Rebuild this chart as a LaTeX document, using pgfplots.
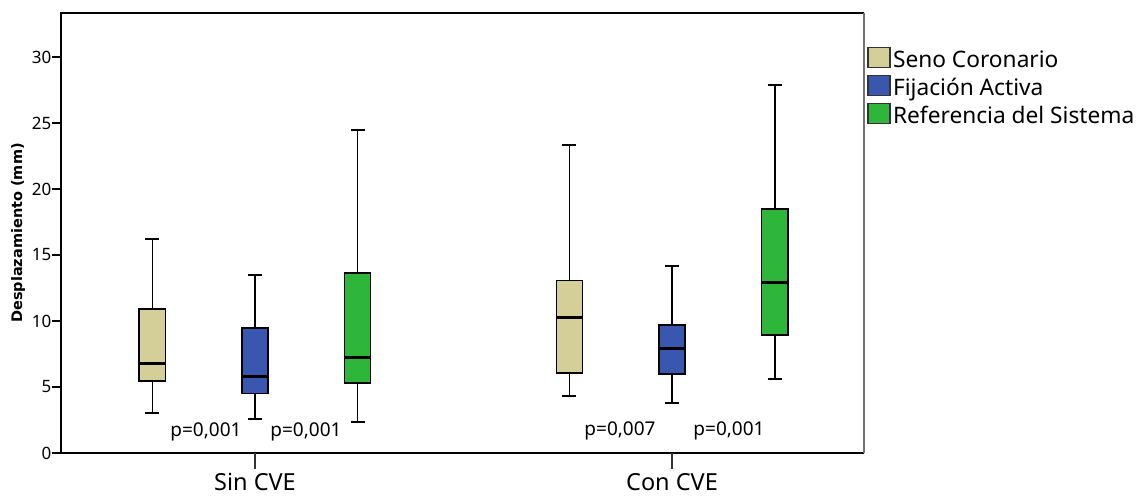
\documentclass[border=0pt]{standalone}
\usepackage{fontspec}
\setmainfont{Noto Sans}
\newfontfamily\dejav{DejaVu Sans}
\usepackage{pgfplots}
\pgfplotsset{compat=1.18}
\usepgfplotslibrary{statistics}
\definecolor{tanc}{RGB}{212,206,152}
\definecolor{bluec}{RGB}{58,87,176}
\definecolor{greenc}{RGB}{46,182,58}
\pgfplotsset{
  mybox/.style={forget plot, draw=black, line width=1.8pt,
    boxplot/draw direction=y,
    boxplot/box extend=0.0624, boxplot/whisker extend=0.0336,
    boxplot/every median/.style={line width=3pt}},
}
\begin{document}
\begin{tikzpicture}
\begin{axis}[
  name=ax,
  scale only axis, width=803pt, height=440pt,
  xmin=0.5348, xmax=2.4604, ymin=0, ymax=33.33,
  clip=false,
  axis line style={draw=none},
  ytick={0,5,10,15,20,25,30}, ytick pos=left,
  xtick={1,2}, xticklabels={Sin CVE,Con CVE}, xtick pos=bottom,
  tick align=outside, major tick length=9pt,
  ytick style={black, line width=1.5pt},
  xtick style={draw=none},
  /pgf/number format/assume math mode=true,
  yticklabel style={font=\fontsize{17}{18}\selectfont, anchor=east, inner sep=0pt, xshift=-0.5pt},
  xticklabel style={font=\fontsize{23.5}{26}\selectfont, anchor=base, inner sep=0pt, yshift=-28.5pt},
  ylabel={Desplazamiento (mm)},
  ylabel style={font=\dejav\bfseries\fontsize{14.5}{16}\selectfont, at={(axis description cs:-0.0535,0.5)}, anchor=center},
  legend style={draw=none, fill=none, inner sep=0pt,
    at={(axis description cs:1,1)}, anchor=north west, xshift=3pt, yshift=-33.7pt,
    font=\fontsize{22.7}{27}\selectfont,
    cells={anchor=base west},
    nodes={inner sep=0pt, text height=20pt, text depth=8pt},
    row sep=0pt},
  legend image code/.code={\draw[#1, draw=black!80, line width=1.3pt] (0pt,-0.5pt) rectangle (22pt,19.5pt); \path (25pt,0pt);},
]
\addlegendimage{fill=tanc}
\addlegendentry{Seno Coronario}
\addlegendimage{fill=bluec}
\addlegendentry{Fijación Activa}
\addlegendimage{fill=greenc}
\addlegendentry{Referencia del Sistema}

% Sin CVE
\addplot[mybox, fill=tanc, boxplot prepared={draw position=0.754,
  lower whisker=3.0, lower quartile=5.48, median=6.79, upper quartile=10.88, upper whisker=16.24}] coordinates {};
\addplot[mybox, fill=bluec, boxplot prepared={draw position=1.0,
  lower whisker=2.58, lower quartile=4.5, median=5.76, upper quartile=9.44, upper whisker=13.46}] coordinates {};
\addplot[mybox, fill=greenc, boxplot prepared={draw position=1.246,
  lower whisker=2.37, lower quartile=5.33, median=7.22, upper quartile=13.66, upper whisker=24.47}] coordinates {};
% Con CVE
\addplot[mybox, fill=tanc, boxplot prepared={draw position=1.754,
  lower whisker=4.29, lower quartile=6.09, median=10.25, upper quartile=13.06, upper whisker=23.33}] coordinates {};
\addplot[mybox, fill=bluec, boxplot prepared={draw position=2.0,
  lower whisker=3.76, lower quartile=6.01, median=7.88, upper quartile=9.70, upper whisker=14.14}] coordinates {};
\addplot[mybox, fill=greenc, boxplot prepared={draw position=2.246,
  lower whisker=5.58, lower quartile=8.94, median=12.9, upper quartile=18.46, upper whisker=27.88}] coordinates {};

\node[font=\fontsize{19}{20}\selectfont, anchor=base] at (axis cs:0.8825,1.23) {p=0,001};
\node[font=\fontsize{19}{20}\selectfont, anchor=base] at (axis cs:1.1223,1.23) {p=0,001};
\node[font=\fontsize{19}{20}\selectfont, anchor=base] at (axis cs:1.8753,1.36) {p=0,007};
\node[font=\fontsize{19}{20}\selectfont, anchor=base] at (axis cs:2.1367,1.36) {p=0,001};

\draw[black, line width=2pt] (rel axis cs:1,1) -- (rel axis cs:0,1) -- (rel axis cs:0,0) -- (rel axis cs:1,0);
\draw[black!55, line width=1.2pt] (rel axis cs:1,0) -- (rel axis cs:1,1);
\draw[black!80, line width=1.5pt] (axis cs:1,0) -- ([yshift=-16pt]axis cs:1,0);
\draw[black!80, line width=1.5pt] (axis cs:2,0) -- ([yshift=-16pt]axis cs:2,0);
\end{axis}
\pgfresetboundingbox
\path[use as bounding box] ([shift={(-61pt,-44pt)}]ax.south west) rectangle ([shift={(272pt,13pt)}]ax.north east);
\end{tikzpicture}
\end{document}
